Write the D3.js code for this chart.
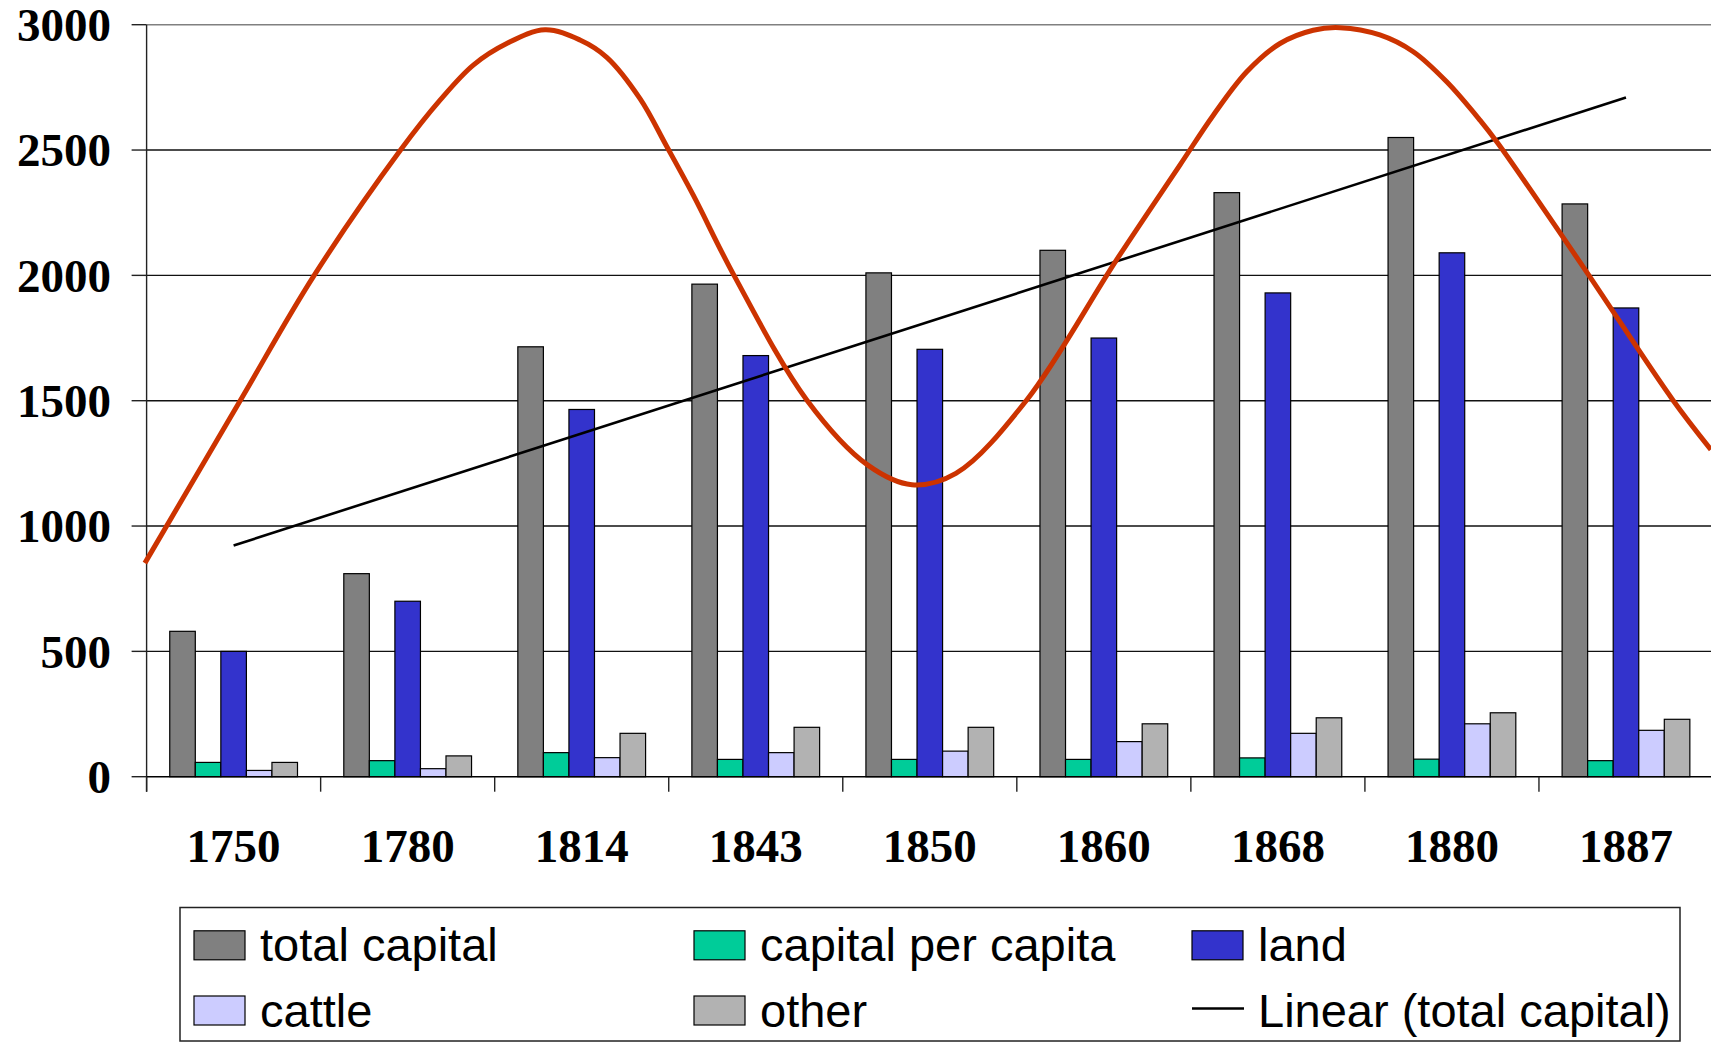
<!DOCTYPE html>
<html>
<head>
<meta charset="utf-8">
<script src="https://d3js.org/d3.v7.min.js"></script>
<style>
  body { margin: 0; background: #fff; }
  svg { display: block; }
  .ylab, .xlab { font-family: "Liberation Serif", "Times New Roman", serif; font-weight: bold; font-size: 47px; fill: #000; }
  .leg { font-family: "Liberation Sans", Arial, sans-serif; font-size: 47px; fill: #000; }
</style>
</head>
<body>
<div id="chart"></div>
<script>
// categories (years)
var years = ["1750", "1780", "1814", "1843", "1850", "1860", "1868", "1880", "1887"];

// series values
var totalCapital     = [580, 810, 1715, 1965, 2010, 2100, 2330, 2550, 2285];
var capitalPerCapita = [57, 64, 96, 69, 69, 69, 75, 70, 64];
var land             = [500, 700, 1465, 1680, 1705, 1750, 1930, 2090, 1870];
var cattle           = [25, 32, 76, 96, 102, 140, 173, 211, 185];
var other            = [57, 83, 173, 197, 197, 211, 235, 255, 229];

var seriesNames  = ["total capital", "capital per capita", "land", "cattle", "other"];
var seriesColors = ["#808080", "#00CC99", "#3333CC", "#CCCCFF", "#B2B2B2"];

// the red wave drawn over the chart: position in category units (0 = 1750) and value
var waveAt    = [-0.51, 0.04, 0.46, 0.96, 1.186, 1.377, 1.569, 1.789, 1.990, 2.144, 2.335, 2.488, 2.641, 2.875,
                 3.293, 3.644, 3.897, 4.150, 4.557, 5.073, 5.437, 5.629, 5.821, 6.012, 6.203, 6.357, 6.586,
                 6.778, 6.970, 7.161, 7.266, 7.754, 8.269, 8.488];
var waveValue = [852, 1503, 1997, 2501, 2699, 2839, 2925, 2980, 2939, 2870, 2705, 2515, 2320, 2000,
                 1503, 1243, 1165, 1210, 1503, 2062, 2440, 2639, 2812, 2925, 2978, 2988, 2959,
                 2892, 2772, 2619, 2525, 2034, 1503, 1305];

var yTicks = [0, 500, 1000, 1500, 2000, 2500, 3000];

var W = 1711, H = 1042;
var plotLeft = 146.6, plotRight = 1713, plotTop = 24.7, plotBottom = 776.7;

var svg = d3.select("#chart").append("svg")
  .attr("width", W).attr("height", H);

var y = d3.scaleLinear().domain([0, 3000]).range([plotBottom, plotTop]);

var x0 = d3.scaleBand().domain(years).range([plotLeft, plotRight])
  .paddingInner(0.266).paddingOuter(0.133);
var x1 = d3.scaleBand().domain(seriesNames).range([0, x0.bandwidth()]);
var xu = d3.scaleLinear().domain([-0.5, years.length - 0.5]).range([plotLeft, plotRight]);

// gridlines
svg.append("g").selectAll("line").data(yTicks.filter(function (d) { return d > 0; }))
  .enter().append("line")
  .attr("x1", plotLeft).attr("x2", W)
  .attr("y1", function (d) { return y(d); }).attr("y2", function (d) { return y(d); })
  .attr("stroke", function (d) { return d === 3000 ? "#808080" : "#111"; })
  .attr("stroke-width", 1.4);

// y axis
svg.append("line").attr("x1", plotLeft).attr("x2", plotLeft).attr("y1", plotTop).attr("y2", plotBottom + 15)
  .attr("stroke", "#222").attr("stroke-width", 1.4);
svg.append("g").selectAll("line").data(yTicks).enter().append("line")
  .attr("x1", plotLeft - 15).attr("x2", plotLeft)
  .attr("y1", function (d) { return y(d); }).attr("y2", function (d) { return y(d); })
  .attr("stroke", "#222").attr("stroke-width", 1.4);
svg.append("g").selectAll("text").data(yTicks).enter().append("text")
  .attr("class", "ylab")
  .attr("x", 111).attr("y", function (d) { return y(d); })
  .attr("dy", "0.35em").attr("text-anchor", "end")
  .text(function (d) { return d; });

// bars
var table = years.map(function (yr, i) {
  return { year: yr, vals: [totalCapital[i], capitalPerCapita[i], land[i], cattle[i], other[i]] };
});
var groups = svg.append("g").selectAll("g").data(table).enter().append("g")
  .attr("transform", function (d) { return "translate(" + x0(d.year) + ",0)"; });
groups.selectAll("rect")
  .data(function (d) { return d.vals.map(function (v, k) { return { k: k, v: v }; }); })
  .enter().append("rect")
  .attr("x", function (d) { return x1(seriesNames[d.k]); })
  .attr("width", x1.bandwidth())
  .attr("y", function (d) { return y(d.v); })
  .attr("height", function (d) { return plotBottom - y(d.v); })
  .attr("fill", function (d) { return seriesColors[d.k]; })
  .attr("stroke", "#000").attr("stroke-width", 1.2);

// x axis
svg.append("line").attr("x1", plotLeft).attr("x2", W).attr("y1", plotBottom).attr("y2", plotBottom)
  .attr("stroke", "#000").attr("stroke-width", 1.6);
svg.append("g").selectAll("line").data(d3.range(years.length + 1)).enter().append("line")
  .attr("x1", function (i) { return plotLeft + i * x0.step(); })
  .attr("x2", function (i) { return plotLeft + i * x0.step(); })
  .attr("y1", plotBottom).attr("y2", plotBottom + 15)
  .attr("stroke", "#222").attr("stroke-width", 1.4);
svg.append("g").selectAll("text").data(years).enter().append("text")
  .attr("class", "xlab")
  .attr("x", function (d) { return x0(d) + x0.bandwidth() / 2; })
  .attr("y", 862).attr("text-anchor", "middle")
  .text(function (d) { return d; });

// linear trend of total capital (least squares, like the spreadsheet)
var idx = d3.range(totalCapital.length).map(function (i) { return i + 1; });
var mx = d3.mean(idx), my = d3.mean(totalCapital);
var slope = d3.sum(idx, function (v, i) { return (v - mx) * (totalCapital[i] - my); }) /
            d3.sum(idx, function (v) { return (v - mx) * (v - mx); });
var icpt = my - slope * mx;
svg.append("line")
  .attr("x1", xu(0)).attr("y1", y(icpt + slope * 1))
  .attr("x2", xu(years.length - 1)).attr("y2", y(icpt + slope * years.length))
  .attr("stroke", "#000").attr("stroke-width", 2.6);

// red wave
var wave = d3.line()
  .x(function (d, i) { return xu(waveAt[i]); })
  .y(function (d) { return y(d); })
  .curve(d3.curveCatmullRom.alpha(0.5));
svg.append("path").datum(waveValue)
  .attr("d", wave).attr("fill", "none")
  .attr("stroke", "#CC3300").attr("stroke-width", 5);

// legend
svg.append("rect").attr("x", 180).attr("y", 907.5).attr("width", 1500).attr("height", 133.5)
  .attr("fill", "none").attr("stroke", "#222").attr("stroke-width", 1.5);

var legendItems = [
  { name: "total capital", color: seriesColors[0], col: 0, row: 0 },
  { name: "capital per capita", color: seriesColors[1], col: 1, row: 0 },
  { name: "land", color: seriesColors[2], col: 2, row: 0 },
  { name: "cattle", color: seriesColors[3], col: 0, row: 1 },
  { name: "other", color: seriesColors[4], col: 1, row: 1 },
  { name: "Linear (total capital)", color: null, col: 2, row: 1 }
];
var colX = [194, 694, 1192];
var rowY = [945.3, 1010.5];

var li = svg.append("g").selectAll("g").data(legendItems).enter().append("g")
  .attr("transform", function (d) { return "translate(" + colX[d.col] + "," + rowY[d.row] + ")"; });
li.filter(function (d) { return d.color; }).append("rect")
  .attr("x", 0).attr("y", -14.5).attr("width", 51).attr("height", 29)
  .attr("fill", function (d) { return d.color; })
  .attr("stroke", "#000").attr("stroke-width", 1.2);
li.filter(function (d) { return !d.color; }).append("line")
  .attr("x1", 0).attr("x2", 52).attr("y1", -2).attr("y2", -2)
  .attr("stroke", "#000").attr("stroke-width", 2.6);
li.append("text").attr("class", "leg")
  .attr("x", 66).attr("y", 16)
  .text(function (d) { return d.name; });
</script>
</body>
</html>
